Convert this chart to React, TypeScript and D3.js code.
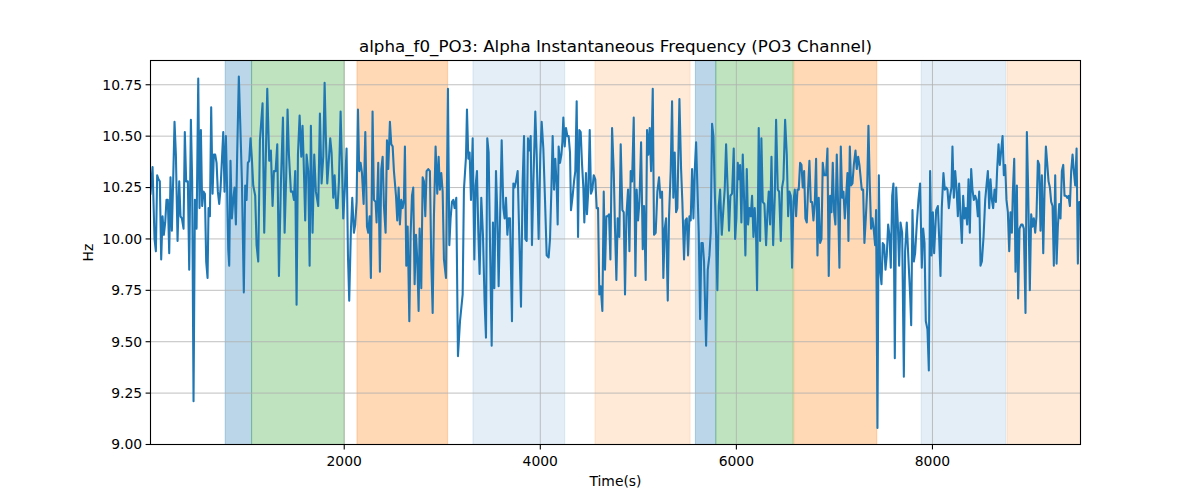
import React from 'react'
import * as d3 from 'd3'

// [time (s), frequency (Hz)]
const samples: [number, number][] = [
    [24,10.22],[45,10.35],[65,10.00],[79,9.94],[92,10.31],[106,10.29],[119,10.28],[133,9.90],[147,10.11],[160,10.02],[174,10.08],[187,10.19],[201,10.19],[215,9.93],[228,10.30],[242,10.04],[255,10.28],[269,10.57],[283,10.41],[300,9.99],[317,10.28],[330,10.11],[344,10.10],[361,10.05],[374,10.52],[388,10.28],[405,10.28],[419,9.85],[436,10.58],[449,10.28],[463,9.21],[477,10.19],[494,10.05],[511,10.78],[524,10.15],[538,10.53],[551,10.16],[565,10.23],[579,10.22],[592,9.89],[606,9.81],[616,10.15],[630,10.11],[643,10.64],[657,10.22],[670,10.41],[684,10.41],[698,10.37],[711,10.23],[725,10.17],[738,10.24],[755,10.41],[766,10.52],[779,10.23],[793,10.50],[806,10.23],[817,9.95],[827,9.87],[840,10.38],[854,10.10],[868,10.19],[881,10.25],[895,10.07],[908,10.41],[925,10.79],[939,10.57],[956,10.29],[976,9.74],[990,10.26],[1004,10.19],[1017,10.37],[1031,10.38],[1044,10.49],[1058,10.39],[1072,10.26],[1092,10.21],[1106,9.97],[1123,9.89],
    [1140,10.48],[1167,10.66],[1184,10.03],[1215,10.73],[1235,10.38],[1252,10.43],[1269,10.16],[1283,10.33],[1300,10.33],[1317,10.46],[1334,9.82],[1354,10.27],[1375,10.59],[1392,10.03],[1408,10.30],[1422,10.63],[1436,10.41],[1456,10.23],[1473,10.23],[1487,10.19],[1500,10.33],[1514,9.68],[1528,10.41],[1545,10.60],[1562,10.40],[1575,10.55],[1585,10.40],[1602,10.09],[1616,10.41],[1633,10.33],[1647,9.87],[1660,10.55],[1677,10.03],[1694,10.41],[1711,10.23],[1735,10.16],[1752,10.61],[1769,10.27],[1786,10.40],[1800,10.76],[1813,10.49],[1827,10.27],[1840,10.36],[1857,10.49],[1871,10.42],[1888,10.20],[1902,10.31],[1919,10.15],[1932,10.15],[1946,10.28],[1963,10.62],[1977,10.36],[1990,10.10],[2007,10.25],[2024,10.44],[2038,9.92],[2051,9.70],[2068,10.04],[2082,10.20],[2099,10.03],[2112,10.07],[2126,10.18],[2140,10.63],[2153,10.33],[2167,10.37],[2181,10.32],[2198,10.17],[2215,10.52],[2232,10.06],[2245,10.03],[2259,10.11],[2272,9.81],[2289,10.62],[2303,10.19],[2320,10.18],[2330,10.08],[2347,10.37],
    [2364,9.84],[2378,10.34],[2392,10.40],[2405,10.16],[2422,10.03],[2436,10.48],[2449,10.34],[2466,10.57],[2480,10.46],[2494,10.45],[2507,10.33],[2528,10.21],[2541,10.09],[2555,10.25],[2568,10.07],[2582,10.19],[2596,10.15],[2609,10.19],[2619,10.45],[2633,9.87],[2647,10.06],[2664,9.60],[2677,10.02],[2691,10.21],[2704,10.25],[2718,9.78],[2732,10.02],[2745,9.90],[2759,9.65],[2769,10.05],[2786,9.76],[2800,10.30],[2813,10.28],[2827,10.11],[2840,10.33],[2857,10.34],[2874,10.33],[2888,9.89],[2902,9.64],[2915,10.11],[2932,10.45],[2949,10.22],[2963,10.40],[2976,10.24],[2990,10.32],[3004,10.23],[3017,9.90],[3038,9.81],[3058,10.73],[3072,9.97],[3085,10.10],[3099,10.18],[3113,10.19],[3126,10.15],[3143,10.20],[3160,9.43],[3181,9.60],[3208,9.73],[3221,10.24],[3242,10.40],[3252,10.63],[3266,10.39],[3279,10.42],[3293,10.19],[3310,10.49],[3327,9.90],[3340,10.26],[3354,10.33],[3368,10.03],[3381,9.83],[3398,10.20],[3415,10.02],[3432,9.69],[3446,9.52],[3459,10.49],[3473,10.42],[3487,9.98],[3504,9.48],[3517,10.08],[3531,9.76],[3548,10.33],[3561,10.13],[3575,9.77],
    [3606,10.48],[3623,10.15],[3636,10.10],[3650,10.20],[3664,10.02],[3677,10.10],[3691,10.10],[3711,9.60],[3725,10.27],[3738,10.25],[3752,10.28],[3769,10.33],[3786,10.00],[3803,9.67],[3820,10.28],[3834,10.50],[3847,10.00],[3861,9.99],[3874,10.49],[3888,10.43],[3902,10.50],[3915,9.97],[3929,10.27],[3949,10.62],[3963,10.41],[3983,10.00],[4000,10.41],[4014,10.57],[4031,10.44],[4048,10.19],[4065,9.92],[4085,9.91],[4099,10.00],[4113,10.24],[4126,10.50],[4140,10.24],[4153,10.39],[4167,10.26],[4177,10.07],[4187,10.45],[4201,10.37],[4215,10.41],[4225,10.47],[4235,10.59],[4249,10.45],[4262,10.54],[4276,10.50],[4289,10.50],[4303,10.42],[4313,10.14],[4330,10.21],[4344,10.28],[4357,10.33],[4371,10.67],[4385,10.01],[4398,10.53],[4412,10.52],[4425,10.37],[4439,10.25],[4449,10.08],[4466,10.32],[4476,10.12],[4490,10.24],[4504,10.53],[4517,10.22],[4531,10.24],[4545,10.31],[4561,10.29],[4575,10.15],[4589,10.15],[4602,9.73],[4616,9.77],[4633,9.65],[4647,10.23],[4660,9.85],[4674,10.11],[4687,10.11],[4701,10.12],[4715,9.90],[4732,10.54],[4749,10.33],[4762,10.05],[4776,9.80],[4789,10.10],[4806,10.01],
    [4820,10.46],[4837,10.14],[4851,10.13],[4864,9.73],[4878,10.11],[4895,10.24],[4909,9.94],[4922,10.33],[4936,10.28],[4953,10.59],[4970,9.82],[4983,10.24],[4997,10.09],[5011,10.18],[5028,10.47],[5045,9.95],[5058,10.16],[5075,9.80],[5089,10.53],[5102,10.41],[5116,10.54],[5130,10.33],[5147,10.73],[5160,10.02],[5177,10.03],[5194,10.23],[5211,10.30],[5225,10.20],[5242,10.23],[5255,9.81],[5269,10.05],[5283,10.10],[5300,9.70],[5313,10.11],[5330,10.33],[5344,10.67],[5357,10.20],[5371,10.42],[5385,10.13],[5398,10.15],[5419,10.68],[5436,10.34],[5449,10.18],[5466,9.90],[5480,10.09],[5494,10.10],[5507,9.92],[5521,10.11],[5534,10.09],[5548,10.34],[5562,10.10],[5575,10.33],[5589,10.47],[5602,10.26],[5616,10.03],[5630,9.61],[5643,9.98],[5657,9.98],[5670,9.89],[5691,9.48],[5708,9.85],[5725,9.92],[5738,10.03],[5752,10.56],[5766,10.50],[5779,10.24],[5793,10.02],[5806,9.75],[5820,10.16],[5834,10.24],[5851,10.02],[5868,10.15],[5881,10.24],[5895,10.46],[5912,10.23],[5925,10.04],[5939,10.21],[5956,10.22],[5973,10.44],[5987,10.00],[6000,10.10],[6014,10.37],[6028,10.29],
    [6038,10.36],[6051,10.08],[6065,10.41],[6079,10.19],[6092,9.92],[6106,10.34],[6119,10.07],[6133,10.15],[6147,10.11],[6160,10.21],[6174,10.01],[6187,10.15],[6201,10.01],[6211,9.75],[6228,10.54],[6242,9.99],[6255,10.49],[6269,10.18],[6286,10.17],[6303,9.97],[6317,10.13],[6330,10.23],[6344,10.07],[6358,10.40],[6375,9.97],[6392,10.21],[6405,10.58],[6422,10.24],[6436,10.23],[6453,9.99],[6466,10.25],[6480,10.29],[6497,10.58],[6514,10.41],[6528,10.11],[6541,10.23],[6555,10.21],[6568,9.86],[6582,10.18],[6596,10.24],[6609,10.11],[6623,10.24],[6636,10.24],[6650,10.37],[6664,10.36],[6677,10.25],[6691,10.33],[6704,10.10],[6718,10.08],[6732,10.25],[6745,10.38],[6759,10.18],[6772,10.18],[6786,10.09],[6800,10.18],[6813,10.39],[6827,9.92],[6840,10.20],[6854,9.98],[6868,10.00],[6881,10.37],[6895,10.31],[6915,10.31],[6929,10.44],[6942,9.82],[6956,10.21],[6970,10.13],[6983,10.37],[6997,10.13],[7010,10.07],[7024,10.41],[7038,10.16],[7051,9.86],[7065,10.45],[7079,10.20],[7092,10.23],[7106,10.10],[7119,10.20],[7133,10.32],[7143,9.99],[7157,10.45],[7170,10.26],[7184,10.27],[7198,10.36],[7215,10.43],[7228,10.34],[7242,10.40],[7255,10.36],
    [7279,10.24],[7293,10.24],[7306,9.98],[7320,10.10],[7334,10.24],[7347,10.55],[7361,10.26],[7374,10.05],[7388,10.10],[7402,10.04],[7415,9.97],[7425,10.14],[7439,9.08],[7453,10.31],[7466,9.85],[7480,9.78],[7493,9.98],[7507,9.97],[7521,9.85],[7534,9.92],[7548,10.07],[7561,10.02],[7575,9.86],[7589,10.21],[7602,10.27],[7616,9.42],[7630,10.25],[7647,10.07],[7660,9.87],[7674,10.08],[7691,10.03],[7708,9.33],[7721,9.94],[7738,10.08],[7755,9.90],[7772,9.73],[7783,9.58],[7796,10.14],[7810,9.89],[7823,9.93],[7840,10.07],[7857,10.19],[7874,10.27],[7891,9.86],[7905,10.05],[7919,9.98],[7932,9.60],[7949,9.56],[7963,9.36],[7976,10.33],[7990,9.92],[8004,10.13],[8017,9.93],[8038,10.14],[8055,10.16],[8068,10.01],[8082,9.82],[8095,10.15],[8112,10.32],[8126,10.24],[8140,10.25],[8153,10.24],[8167,10.15],[8180,10.21],[8194,10.25],[8204,10.45],[8218,10.20],[8232,10.33],[8245,10.25],[8259,10.11],[8272,10.27],[8286,10.11],[8300,9.98],[8313,10.21],[8327,10.10],[8340,10.15],[8354,10.07],[8368,10.29],[8381,10.03],[8395,10.34],[8408,10.24],[8422,10.19],
    [8436,10.21],[8449,10.19],[8463,10.11],[8477,10.23],[8490,9.87],[8504,9.89],[8521,10.01],[8538,10.19],[8551,10.26],[8565,10.33],[8579,10.15],[8592,10.29],[8606,10.19],[8619,10.15],[8633,10.24],[8647,10.18],[8660,10.34],[8674,10.46],[8687,10.36],[8701,10.43],[8715,10.50],[8728,10.31],[8742,10.36],[8755,10.19],[8769,10.13],[8783,9.94],[8796,10.13],[8810,10.03],[8820,10.23],[8834,10.39],[8847,9.84],[8861,10.26],[8874,9.71],[8888,10.05],[8905,10.07],[8919,10.07],[8932,10.05],[8949,9.64],[8963,10.52],[8976,10.24],[8993,9.75],[9007,10.12],[9021,10.06],[9034,10.10],[9048,10.03],[9061,10.11],[9075,10.38],[9089,10.36],[9102,10.04],[9116,10.31],[9130,9.93],[9143,10.23],[9157,10.45],[9170,10.37],[9184,10.28],[9198,10.25],[9211,10.18],[9225,10.16],[9238,9.87],[9252,10.31],[9266,9.88],[9279,10.06],[9293,10.17],[9306,10.10],[9320,10.33],[9334,10.36],[9347,10.21],[9361,10.21],[9374,10.20],[9388,10.21],[9402,10.16],[9415,10.33],[9429,10.41],[9442,10.33],[9456,10.26],[9470,10.44],[9483,9.88],[9497,10.18],[9510,10.18],
]

// shaded segments: [start, end, kind]
const segments: [number, number, string][] = [
    [786, 1055, 'blue'],
    [1055, 2000, 'green'],
    [2130, 3055, 'orange'],
    [3313, 4249, 'blueLight'],
    [4558, 5528, 'orangeLight'],
    [5582, 5790, 'blue'],
    [5790, 6579, 'green'],
    [6586, 7432, 'orange'],
    [7885, 8749, 'blueLight'],
    [8762, 9510, 'orangeLight'],
]

const yTicks = [9.0, 9.25, 9.5, 9.75, 10.0, 10.25, 10.5, 10.75]
const xTicks = [2000, 4000, 6000, 8000]
const yRange = [9.0, 10.868]

const segmentStyle: { [k: string]: { color: string, alpha: number } } = {
    blue: { color: '#1f77b4', alpha: 0.3 },
    green: { color: '#2ca02c', alpha: 0.3 },
    orange: { color: '#ff7f0e', alpha: 0.3 },
    blueLight: { color: '#1f77b4', alpha: 0.12 },
    orangeLight: { color: '#ff7f0e', alpha: 0.16 },
}

const App = () => {
    const width = 1200
    const height = 500
    const left = 150.5
    const right = 1080.5
    const top = 60.5
    const bottom = 444.5
    const font = '"DejaVu Sans", sans-serif'

    const xExtent = d3.extent(samples, d => d[0]) as [number, number]
    const x = d3.scaleLinear().domain(xExtent).range([left, right])
    const y = d3.scaleLinear().domain(yRange).range([bottom, top])

    const line = d3.line<[number, number]>()
        .x(d => x(d[0]))
        .y(d => y(d[1]))

    return (
        <div style={{ position: 'absolute', left: 0, top: 0 }}>
            <svg width={width} height={height} style={{ display: 'block', background: '#fff' }}>
                <defs>
                    <clipPath id="plot-area">
                        <rect x={left} y={top} width={right - left} height={bottom - top} />
                    </clipPath>
                </defs>
                <g clipPath="url(#plot-area)">
                    {segments.map(([s, e, k], i) => {
                        const st = segmentStyle[k]
                        return <rect key={`seg-${i}`}
                                     x={x(s)} y={top} width={x(e) - x(s)} height={bottom - top}
                                     fill={st.color} fillOpacity={st.alpha}
                                     stroke={st.color} strokeOpacity={st.alpha} strokeWidth={1} />
                    })}
                    {yTicks.map(t => (
                        <line key={`gy-${t}`} x1={left} x2={right} y1={y(t)} y2={y(t)}
                              stroke="#b0b0b0" strokeWidth={0.8} />
                    ))}
                    {xTicks.map(t => (
                        <line key={`gx-${t}`} x1={x(t)} x2={x(t)} y1={top} y2={bottom}
                              stroke="#b0b0b0" strokeWidth={0.8} />
                    ))}
                    <path d={line(samples) || ''} fill="none" stroke="#1f77b4" strokeWidth={2.08}
                          strokeLinejoin="round" strokeLinecap="square" />
                </g>
                <rect x={left} y={top} width={right - left} height={bottom - top}
                      fill="none" stroke="#000" strokeWidth={1.1} />
                {yTicks.map(t => (
                    <g key={`ty-${t}`}>
                        <line x1={left - 4.9} x2={left} y1={y(t)} y2={y(t)} stroke="#000" strokeWidth={1.1} />
                        <text x={left - 8.4} y={y(t)} dy="0.35em" textAnchor="end"
                              fontFamily={font} fontSize={13.9} fill="#000">{d3.format('.2f')(t)}</text>
                    </g>
                ))}
                {xTicks.map(t => (
                    <g key={`tx-${t}`}>
                        <line x1={x(t)} x2={x(t)} y1={bottom} y2={bottom + 4.9} stroke="#000" strokeWidth={1.1} />
                        <text x={x(t)} y={bottom + 21.5} textAnchor="middle"
                              fontFamily={font} fontSize={13.9} fill="#000">{t}</text>
                    </g>
                ))}
                <text x={(left + right) / 2} y={486} textAnchor="middle"
                      fontFamily={font} fontSize={13.9} fill="#000">Time(s)</text>
                <text transform={`translate(93, ${(top + bottom) / 2}) rotate(-90)`} textAnchor="middle"
                      fontFamily={font} fontSize={13.9} fill="#000">Hz</text>
                <text x={(left + right) / 2} y={52} textAnchor="middle"
                      fontFamily={font} fontSize={16.7} fill="#000">alpha_f0_PO3: Alpha Instantaneous Frequency (PO3 Channel)</text>
            </svg>
        </div>
    )
}

export default App
